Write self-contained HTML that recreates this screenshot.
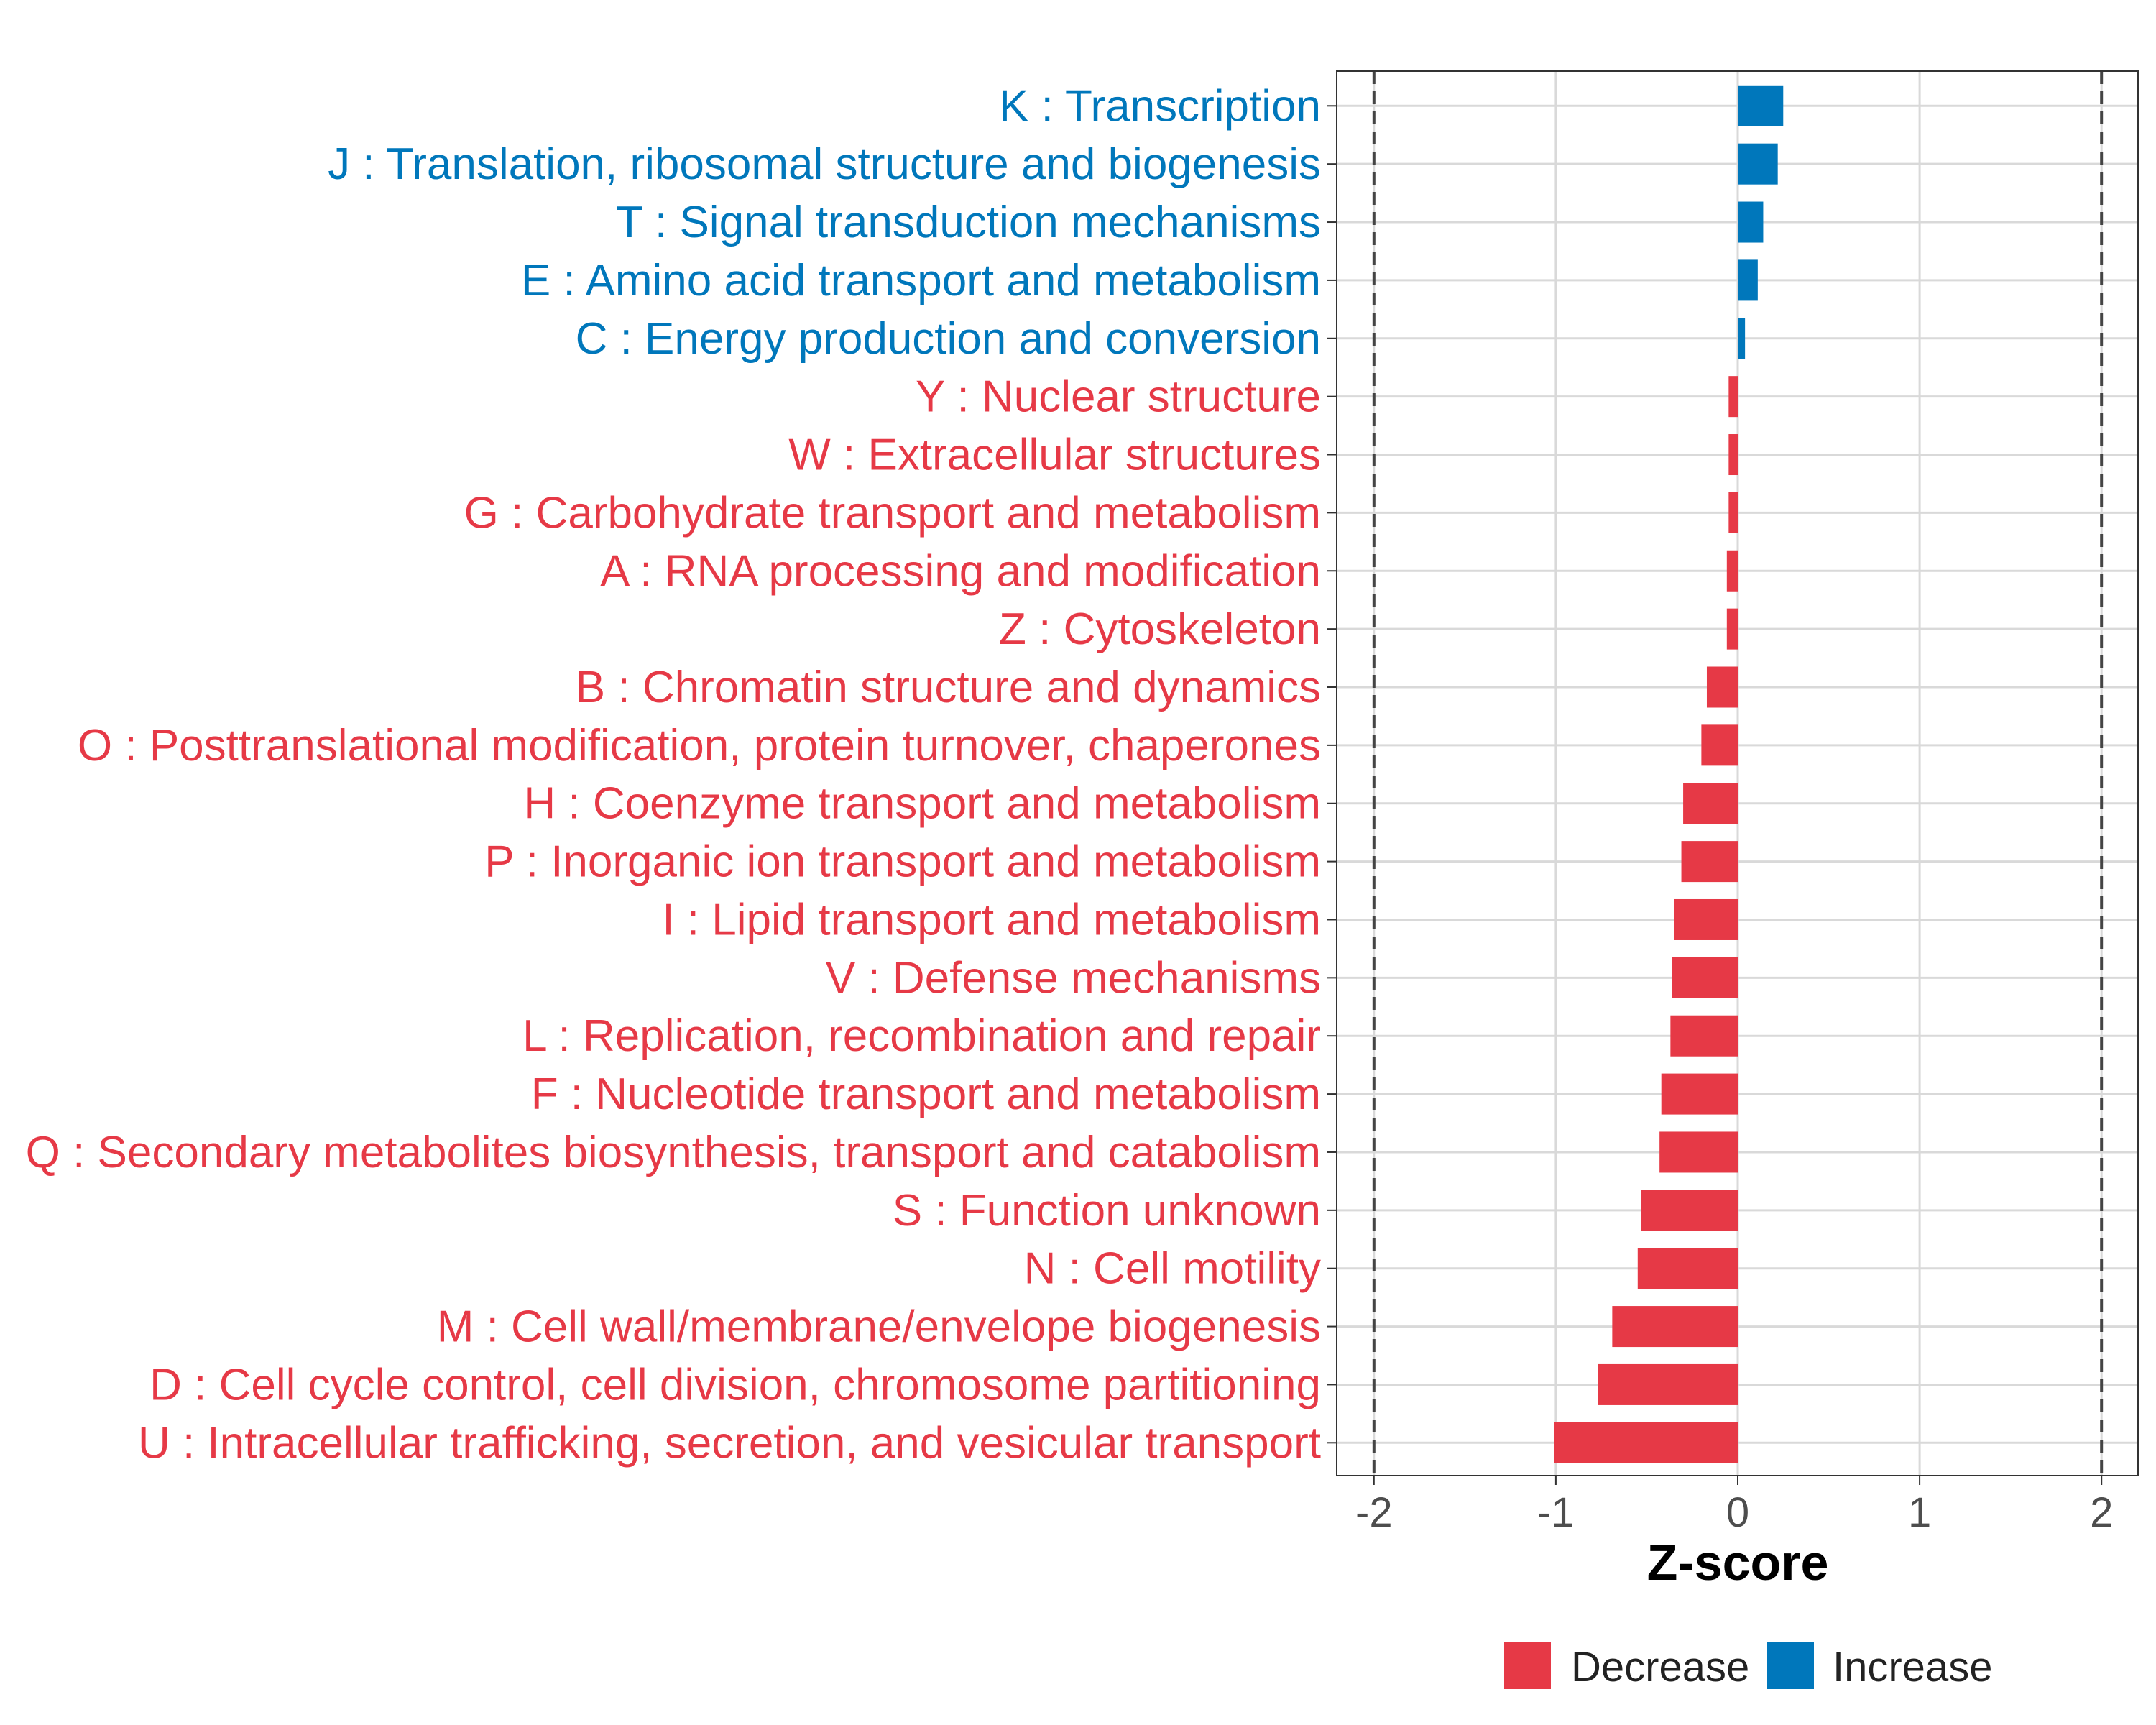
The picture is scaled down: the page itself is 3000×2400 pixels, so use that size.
<!DOCTYPE html>
<html><head><meta charset="utf-8"><style>
html,body{margin:0;padding:0;background:#fff;}
svg{display:block;font-family:"Liberation Sans",sans-serif;}
</style></head><body>
<svg id="chart" width="3000" height="2400" xmlns="http://www.w3.org/2000/svg">
<rect width="3000" height="2400" fill="#fff"/>
<g id="grid"></g><g id="bars"></g><g id="labels"></g><g id="axis"></g>
<rect x="1860" y="99" width="1115" height="1954" fill="none" stroke="#333" stroke-width="2"/>
<text x="2418" y="2198" text-anchor="middle" font-size="70" font-weight="bold">Z-score</text>
<g>
<rect x="2093" y="2285" width="65" height="65" fill="#E63946"/>
<text x="2186" y="2339" font-size="58" fill="#222">Decrease</text>
<rect x="2459" y="2285" width="65" height="65" fill="#0077BB"/>
<text x="2550" y="2339" font-size="58" fill="#222">Increase</text>
</g>
</svg>
<script>
const categories=["K : Transcription","J : Translation, ribosomal structure and biogenesis","T : Signal transduction mechanisms","E : Amino acid transport and metabolism","C : Energy production and conversion","Y : Nuclear structure","W : Extracellular structures","G : Carbohydrate transport and metabolism","A : RNA processing and modification","Z : Cytoskeleton","B : Chromatin structure and dynamics","O : Posttranslational modification, protein turnover, chaperones","H : Coenzyme transport and metabolism","P : Inorganic ion transport and metabolism","I : Lipid transport and metabolism","V : Defense mechanisms","L : Replication, recombination and repair","F : Nucleotide transport and metabolism","Q : Secondary metabolites biosynthesis, transport and catabolism","S : Function unknown","N : Cell motility","M : Cell wall/membrane/envelope biogenesis","D : Cell cycle control, cell division, chromosome partitioning","U : Intracellular trafficking, secretion, and vesicular transport"];
const zscores=[0.25,0.22,0.14,0.11,0.04,-0.05,-0.05,-0.05,-0.06,-0.06,-0.17,-0.2,-0.3,-0.31,-0.35,-0.36,-0.37,-0.42,-0.43,-0.53,-0.55,-0.69,-0.77,-1.01];
const xTicks=[-2,-1,0,1,2];
const NS="http://www.w3.org/2000/svg";
const x=v=>2418+v*253.1;
const y=i=>147.3+i*80.87;
function mk(t,a,p){const e=document.createElementNS(NS,t);for(const k in a)e.setAttribute(k,a[k]);p.appendChild(e);return e;}
const grid=document.getElementById('grid'),bars=document.getElementById('bars'),labels=document.getElementById('labels'),axis=document.getElementById('axis');
xTicks.forEach(v=>{
 const l=mk('line',{x1:x(v),x2:x(v),y1:99,y2:2053,stroke:'#d9d9d9','stroke-width':3},grid);
 
 
 const tk=mk('line',{x1:x(v),x2:x(v),y1:2053,y2:2066,stroke:'#333','stroke-width':2},axis);
 
 
 const t=mk('text',{x:x(v),y:2124,'text-anchor':'middle','font-size':58,fill:'#4d4d4d'},axis);
 t.textContent=String(v);
 
 
});
categories.forEach((c,i)=>{
 const l=mk('line',{x1:1860,x2:2975,y1:y(i),y2:y(i),stroke:'#d9d9d9','stroke-width':3},grid);
 
 
 const tk=mk('line',{x1:1847,x2:1860,y1:y(i),y2:y(i),stroke:'#333','stroke-width':2},axis);
 
 
});
[-2,2].forEach(v=>{
 const l=mk('line',{x1:x(v),x2:x(v),y1:99,y2:2053,stroke:'#444','stroke-width':4,'stroke-dasharray':'18,10'},grid);
 
 
});
categories.forEach((c,i)=>{
 const v=zscores[i],col=v>=0?'#0077BB':'#E63946';
 const r=mk('rect',{x:Math.min(x(0),x(v)),y:y(i)-28.5,width:Math.abs(x(v)-x(0)),height:57,fill:col},bars);
 
 
 const t=mk('text',{x:1838,y:y(i)+21,'text-anchor':'end','font-size':62,fill:col},labels);
 t.textContent=c;
 
 
});
</script>
</body></html>
